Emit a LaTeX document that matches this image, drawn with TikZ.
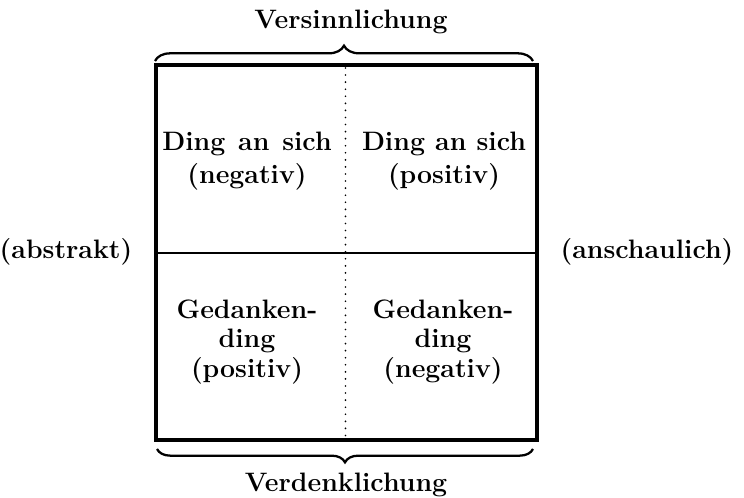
\documentclass[tikz,border=0pt]{standalone}
\usetikzlibrary{decorations.pathreplacing}
\begin{document}
\begin{tikzpicture}[x=0.75pt,y=-0.75pt,
  lbl/.style={inner sep=0pt, font=\fontsize{20}{24}\selectfont\bfseries},
  uppercell/.style={lbl, align=center, font=\fontsize{20}{24.5}\selectfont\bfseries},
  lowercell/.style={lbl, align=center, font=\fontsize{20}{22}\selectfont\bfseries},
  frame/.style={line width=2.5pt},
  midline/.style={line width=2.1pt},
  dotline/.style={line width=1.4pt, line cap=round, dash pattern=on 0pt off 5.3pt},
  bracestyle/.style={line width=1.7pt, decorate}
]
\useasboundingbox (0,0) rectangle (744,498);
% frame corners
\coordinate (tl) at (156,65);
\coordinate (br) at (537,440);
\coordinate (ml) at (156,253);
\coordinate (mr) at (537,253);
\coordinate (tm) at (345.5,68);
\coordinate (bm) at (345.5,437);
% brace ends
\coordinate (tbl) at (155,61);
\coordinate (tbr) at (533,61);
\coordinate (bbl) at (157,449);
\coordinate (bbr) at (533,449);

\draw[frame] (tl) rectangle (br);
\draw[midline] (ml) -- (mr);
\draw[dotline] (tm) -- (bm);

\draw[bracestyle, decoration={brace, amplitude=11.5pt}] (tbl) -- (tbr);
\draw[bracestyle, decoration={brace, amplitude=10pt}] (bbr) -- (bbl);

\node[lbl, anchor=base] (top) at (351,29) {Versinnlichung};
\node[lbl, anchor=base] (bottom) at (346,492) {Verdenklichung};
\node[lbl] (left) at (66,252) {(abstrakt)};
\node[lbl] (right) at (647,252) {(anschaulich)};

\node[uppercell] (ul) at (247,161) {\makebox[127pt][s]{Ding an sich}\\(negativ)};
\node[uppercell] (ur) at (444,161) {\makebox[123pt][s]{Ding an sich}\\(positiv)};
\node[lowercell] (ll) at (247,342) {Gedanken-\\ding\\(positiv)};
\node[lowercell] (lr) at (443,342) {Gedanken-\\ding\\(negativ)};
\end{tikzpicture}
\end{document}
